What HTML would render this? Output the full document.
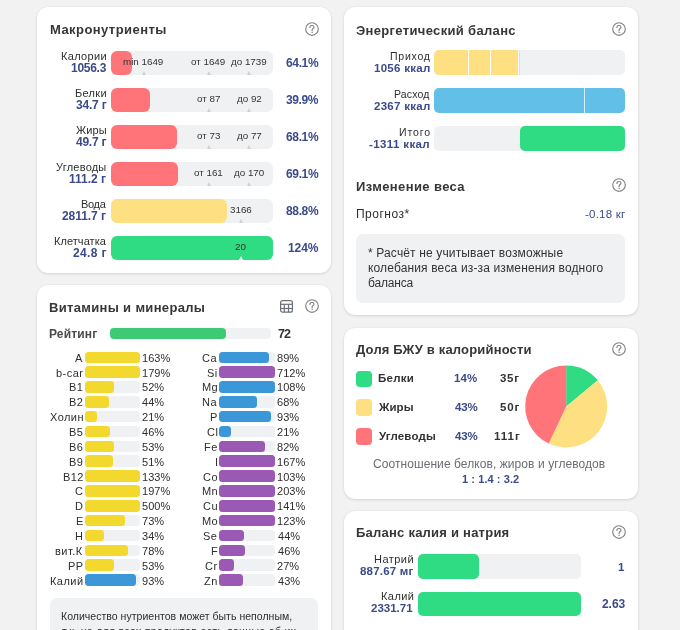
<!DOCTYPE html>
<html><head><meta charset="utf-8"><style>
html,body{margin:0;padding:0;}
body{width:680px;height:630px;overflow:hidden;background:#f2f2f3;position:relative;font-family:"Liberation Sans",sans-serif;}
.t{position:absolute;white-space:nowrap;-webkit-font-smoothing:antialiased;will-change:transform;}
.r{position:absolute;}
.card{position:absolute;background:#fff;border-radius:11px;box-shadow:0 1px 3px rgba(0,0,0,0.12),0 0 1px rgba(0,0,0,0.08);}
</style></head><body>
<div class="card" style="left:37px;top:7px;width:293.5px;height:266px"></div>
<div class="card" style="left:37px;top:285px;width:293.5px;height:400px"></div>
<div class="card" style="left:343.5px;top:7px;width:294.5px;height:308px"></div>
<div class="card" style="left:343.5px;top:328px;width:294.5px;height:171px"></div>
<div class="card" style="left:343.5px;top:511px;width:294.5px;height:200px"></div>
<div class="t" style="left:49.52px;top:23.30px;font-size:13px;line-height:13px;font-weight:700;color:#363636;letter-spacing:0.432px;">Макронутриенты</div>
<svg class="r" style="left:304px;top:20.8px" width="16" height="16" viewBox="0 0 16 16"><circle cx="8" cy="8" r="6.3" fill="none" stroke="#828282" stroke-width="1.15"/><path d="M5.9 6.4 C5.9 5.1 6.9 4.5 8 4.5 C9.2 4.5 10 5.3 10 6.2 C10 7.4 8.1 7.7 8.1 9 L8.1 9.5" fill="none" stroke="#828282" stroke-width="1.15" stroke-linecap="round"/><circle cx="8.1" cy="11.3" r="0.75" fill="#828282"/></svg>
<div class="t" style="left:61.22px;top:51.19px;font-size:11px;line-height:11px;font-weight:400;color:#2e2e2e;letter-spacing:0.324px;">Калории</div>
<div class="t" style="left:71.08px;top:62.34px;font-size:12px;line-height:12px;font-weight:700;color:#3b4a8a;letter-spacing:-0.270px;">1056.3</div>
<div class="r" style="left:111px;top:50.5px;width:162px;height:24.5px;background:#f0f1f3;border-radius:6px;"></div>
<div class="r" style="left:111px;top:50.5px;width:21px;height:24.5px;background:#ff7479;border-radius:6px;"></div>
<div class="r" style="left:141.8px;top:70.8px;width:0;height:0;border-left:2.2px solid transparent;border-right:2.2px solid transparent;border-bottom:4.2px solid #cfd1d4"></div>
<div class="t" style="left:122.77px;top:56.50px;font-size:9.8px;line-height:9.8px;font-weight:400;color:#333;">min 1649</div>
<div class="r" style="left:206.60000000000002px;top:70.8px;width:0;height:0;border-left:2.2px solid transparent;border-right:2.2px solid transparent;border-bottom:4.2px solid #cfd1d4"></div>
<div class="t" style="left:190.86px;top:56.50px;font-size:9.8px;line-height:9.8px;font-weight:400;color:#333;">от 1649</div>
<div class="r" style="left:247.3px;top:70.8px;width:0;height:0;border-left:2.2px solid transparent;border-right:2.2px solid transparent;border-bottom:4.2px solid #cfd1d4"></div>
<div class="t" style="left:230.88px;top:56.50px;font-size:9.8px;line-height:9.8px;font-weight:400;color:#333;">до 1739</div>
<div class="t" style="left:286.14px;top:56.84px;font-size:12px;line-height:12px;font-weight:700;color:#3b4a8a;letter-spacing:-0.359px;">64.1%</div>
<div class="t" style="left:75.22px;top:88.19px;font-size:11px;line-height:11px;font-weight:400;color:#2e2e2e;letter-spacing:0.297px;">Белки</div>
<div class="t" style="left:75.66px;top:99.34px;font-size:12px;line-height:12px;font-weight:700;color:#3b4a8a;letter-spacing:-0.206px;">34.7 г</div>
<div class="r" style="left:111px;top:87.5px;width:162px;height:24.5px;background:#f0f1f3;border-radius:6px;"></div>
<div class="r" style="left:111px;top:87.5px;width:39px;height:24.5px;background:#ff7479;border-radius:6px;"></div>
<div class="r" style="left:206.60000000000002px;top:107.8px;width:0;height:0;border-left:2.2px solid transparent;border-right:2.2px solid transparent;border-bottom:4.2px solid #cfd1d4"></div>
<div class="t" style="left:196.96px;top:93.50px;font-size:9.8px;line-height:9.8px;font-weight:400;color:#333;">от 87</div>
<div class="r" style="left:247.3px;top:107.8px;width:0;height:0;border-left:2.2px solid transparent;border-right:2.2px solid transparent;border-bottom:4.2px solid #cfd1d4"></div>
<div class="t" style="left:237.13px;top:93.50px;font-size:9.8px;line-height:9.8px;font-weight:400;color:#333;">до 92</div>
<div class="t" style="left:286.26px;top:93.84px;font-size:12px;line-height:12px;font-weight:700;color:#3b4a8a;letter-spacing:-0.389px;">39.9%</div>
<div class="t" style="left:75.99px;top:125.19px;font-size:11px;line-height:11px;font-weight:400;color:#2e2e2e;letter-spacing:0.147px;">Жиры</div>
<div class="t" style="left:75.88px;top:136.34px;font-size:12px;line-height:12px;font-weight:700;color:#3b4a8a;letter-spacing:-0.250px;">49.7 г</div>
<div class="r" style="left:111px;top:124.5px;width:162px;height:24.5px;background:#f0f1f3;border-radius:6px;"></div>
<div class="r" style="left:111px;top:124.5px;width:66px;height:24.5px;background:#ff7479;border-radius:6px;"></div>
<div class="r" style="left:206.60000000000002px;top:144.8px;width:0;height:0;border-left:2.2px solid transparent;border-right:2.2px solid transparent;border-bottom:4.2px solid #cfd1d4"></div>
<div class="t" style="left:196.91px;top:130.50px;font-size:9.8px;line-height:9.8px;font-weight:400;color:#333;">от 73</div>
<div class="r" style="left:247.3px;top:144.8px;width:0;height:0;border-left:2.2px solid transparent;border-right:2.2px solid transparent;border-bottom:4.2px solid #cfd1d4"></div>
<div class="t" style="left:237.13px;top:130.50px;font-size:9.8px;line-height:9.8px;font-weight:400;color:#333;">до 77</div>
<div class="t" style="left:286.14px;top:130.84px;font-size:12px;line-height:12px;font-weight:700;color:#3b4a8a;letter-spacing:-0.359px;">68.1%</div>
<div class="t" style="left:56.48px;top:162.19px;font-size:11px;line-height:11px;font-weight:400;color:#2e2e2e;letter-spacing:0.222px;">Углеводы</div>
<div class="t" style="left:69.28px;top:173.34px;font-size:12px;line-height:12px;font-weight:700;color:#3b4a8a;">111.2 г</div>
<div class="r" style="left:111px;top:161.5px;width:162px;height:24.5px;background:#f0f1f3;border-radius:6px;"></div>
<div class="r" style="left:111px;top:161.5px;width:67px;height:24.5px;background:#ff7479;border-radius:6px;"></div>
<div class="r" style="left:206.60000000000002px;top:181.8px;width:0;height:0;border-left:2.2px solid transparent;border-right:2.2px solid transparent;border-bottom:4.2px solid #cfd1d4"></div>
<div class="t" style="left:194.23px;top:167.50px;font-size:9.8px;line-height:9.8px;font-weight:400;color:#333;">от 161</div>
<div class="r" style="left:247.3px;top:181.8px;width:0;height:0;border-left:2.2px solid transparent;border-right:2.2px solid transparent;border-bottom:4.2px solid #cfd1d4"></div>
<div class="t" style="left:234.36px;top:167.50px;font-size:9.8px;line-height:9.8px;font-weight:400;color:#333;">до 170</div>
<div class="t" style="left:286.14px;top:167.84px;font-size:12px;line-height:12px;font-weight:700;color:#3b4a8a;letter-spacing:-0.359px;">69.1%</div>
<div class="t" style="left:81.12px;top:199.19px;font-size:11px;line-height:11px;font-weight:400;color:#2e2e2e;letter-spacing:-0.304px;">Вода</div>
<div class="t" style="left:62.44px;top:210.34px;font-size:12px;line-height:12px;font-weight:700;color:#3b4a8a;letter-spacing:-0.071px;">2811.7 г</div>
<div class="r" style="left:111px;top:198.5px;width:162px;height:24.5px;background:#f0f1f3;border-radius:6px;"></div>
<div class="r" style="left:111px;top:198.5px;width:115.5px;height:24.5px;background:#fedf82;border-radius:6px;"></div>
<div class="r" style="left:238.8px;top:218.8px;width:0;height:0;border-left:2.2px solid transparent;border-right:2.2px solid transparent;border-bottom:4.2px solid #cfd1d4"></div>
<div class="t" style="left:229.93px;top:204.50px;font-size:9.8px;line-height:9.8px;font-weight:400;color:#333;">3166</div>
<div class="t" style="left:286.14px;top:204.84px;font-size:12px;line-height:12px;font-weight:700;color:#3b4a8a;letter-spacing:-0.359px;">88.8%</div>
<div class="t" style="left:54.02px;top:236.19px;font-size:11px;line-height:11px;font-weight:400;color:#2e2e2e;letter-spacing:0.063px;">Клетчатка</div>
<div class="t" style="left:72.94px;top:247.34px;font-size:12px;line-height:12px;font-weight:700;color:#3b4a8a;letter-spacing:0.338px;">24.8 г</div>
<div class="r" style="left:111px;top:235.5px;width:162px;height:24.5px;background:#f0f1f3;border-radius:6px;"></div>
<div class="r" style="left:111px;top:235.5px;width:162px;height:24.5px;background:#2fdb83;border-radius:6px;"></div>
<div class="r" style="left:238.8px;top:255.8px;width:0;height:0;border-left:2.2px solid transparent;border-right:2.2px solid transparent;border-bottom:4.2px solid #ffffff"></div>
<div class="t" style="left:235.28px;top:241.50px;font-size:9.8px;line-height:9.8px;font-weight:400;color:#333;">20</div>
<div class="t" style="left:288.28px;top:241.84px;font-size:12px;line-height:12px;font-weight:700;color:#3b4a8a;letter-spacing:-0.080px;">124%</div>
<div class="t" style="left:48.92px;top:300.60px;font-size:13px;line-height:13px;font-weight:700;color:#363636;letter-spacing:0.330px;">Витамины и минералы</div>
<svg class="r" style="left:279px;top:299px" width="15" height="15" viewBox="0 0 15 15"><rect x="1.6" y="1.6" width="11.8" height="11.6" rx="2" fill="none" stroke="#6c7077" stroke-width="1.2"/><line x1="1.6" y1="5.3" x2="13.4" y2="5.3" stroke="#6c7077" stroke-width="1.2"/><line x1="1.6" y1="9.5" x2="13.4" y2="9.5" stroke="#6c7077" stroke-width="1.2"/><line x1="5.3" y1="5.3" x2="5.3" y2="13.2" stroke="#6c7077" stroke-width="1.2"/><line x1="9.5" y1="5.3" x2="9.5" y2="13.2" stroke="#6c7077" stroke-width="1.2"/></svg>
<svg class="r" style="left:304px;top:298.3px" width="16" height="16" viewBox="0 0 16 16"><circle cx="8" cy="8" r="6.3" fill="none" stroke="#828282" stroke-width="1.15"/><path d="M5.9 6.4 C5.9 5.1 6.9 4.5 8 4.5 C9.2 4.5 10 5.3 10 6.2 C10 7.4 8.1 7.7 8.1 9 L8.1 9.5" fill="none" stroke="#828282" stroke-width="1.15" stroke-linecap="round"/><circle cx="8.1" cy="11.3" r="0.75" fill="#828282"/></svg>
<div class="t" style="left:48.98px;top:328.24px;font-size:12px;line-height:12px;font-weight:700;color:#4a4a4a;letter-spacing:0.147px;">Рейтинг</div>
<div class="r" style="left:109.5px;top:327.8px;width:161px;height:11px;background:#f0f1f3;border-radius:4px;"></div>
<div class="r" style="left:109.5px;top:327.8px;width:116.5px;height:11px;background:#3dca72;border-radius:4px;"></div>
<div class="t" style="left:277.80px;top:327.72px;font-size:12.5px;line-height:12.5px;font-weight:700;color:#363636;letter-spacing:-0.852px;">72</div>
<div class="t" style="left:75.13px;top:352.79px;font-size:11px;line-height:11px;font-weight:400;color:#2e2e2e;letter-spacing:0.450px;">A</div>
<div class="r" style="left:85.1px;top:351.5px;width:54.8px;height:11.5px;background:#f0f1f3;border-radius:3.5px;"></div>
<div class="r" style="left:85.1px;top:351.5px;width:54.8px;height:11.5px;background:#f3d82e;border-radius:3.5px;"></div>
<div class="t" style="left:141.93px;top:352.79px;font-size:11px;line-height:11px;font-weight:400;color:#2e2e2e;letter-spacing:0.050px;">163%</div>
<div class="t" style="left:202.45px;top:352.79px;font-size:11px;line-height:11px;font-weight:400;color:#2e2e2e;letter-spacing:0.450px;">Ca</div>
<div class="r" style="left:219.3px;top:351.5px;width:55.7px;height:11.5px;background:#f0f1f3;border-radius:3.5px;"></div>
<div class="r" style="left:219.3px;top:351.5px;width:49.573px;height:11.5px;background:#3c97d9;border-radius:3.5px;"></div>
<div class="t" style="left:277.36px;top:352.79px;font-size:11px;line-height:11px;font-weight:400;color:#2e2e2e;letter-spacing:0.050px;">89%</div>
<div class="t" style="left:55.78px;top:367.64px;font-size:11px;line-height:11px;font-weight:400;color:#2e2e2e;letter-spacing:0.450px;">b-car</div>
<div class="r" style="left:85.1px;top:366.35px;width:54.8px;height:11.5px;background:#f0f1f3;border-radius:3.5px;"></div>
<div class="r" style="left:85.1px;top:366.35px;width:54.8px;height:11.5px;background:#f3d82e;border-radius:3.5px;"></div>
<div class="t" style="left:141.93px;top:367.64px;font-size:11px;line-height:11px;font-weight:400;color:#2e2e2e;letter-spacing:0.050px;">179%</div>
<div class="t" style="left:207.45px;top:367.64px;font-size:11px;line-height:11px;font-weight:400;color:#2e2e2e;letter-spacing:0.450px;">Si</div>
<div class="r" style="left:219.3px;top:366.35px;width:55.7px;height:11.5px;background:#f0f1f3;border-radius:3.5px;"></div>
<div class="r" style="left:219.3px;top:366.35px;width:55.7px;height:11.5px;background:#9b59b6;border-radius:3.5px;"></div>
<div class="t" style="left:277.25px;top:367.64px;font-size:11px;line-height:11px;font-weight:400;color:#2e2e2e;letter-spacing:0.050px;">712%</div>
<div class="t" style="left:69.10px;top:382.49px;font-size:11px;line-height:11px;font-weight:400;color:#2e2e2e;letter-spacing:0.450px;">B1</div>
<div class="r" style="left:85.1px;top:381.2px;width:54.8px;height:11.5px;background:#f0f1f3;border-radius:3.5px;"></div>
<div class="r" style="left:85.1px;top:381.2px;width:28.496px;height:11.5px;background:#f3d82e;border-radius:3.5px;"></div>
<div class="t" style="left:142.26px;top:382.49px;font-size:11px;line-height:11px;font-weight:400;color:#2e2e2e;letter-spacing:0.050px;">52%</div>
<div class="t" style="left:201.89px;top:382.49px;font-size:11px;line-height:11px;font-weight:400;color:#2e2e2e;letter-spacing:0.450px;">Mg</div>
<div class="r" style="left:219.3px;top:381.2px;width:55.7px;height:11.5px;background:#f0f1f3;border-radius:3.5px;"></div>
<div class="r" style="left:219.3px;top:381.2px;width:55.7px;height:11.5px;background:#3c97d9;border-radius:3.5px;"></div>
<div class="t" style="left:277.03px;top:382.49px;font-size:11px;line-height:11px;font-weight:400;color:#2e2e2e;letter-spacing:0.050px;">108%</div>
<div class="t" style="left:69.10px;top:397.34px;font-size:11px;line-height:11px;font-weight:400;color:#2e2e2e;letter-spacing:0.450px;">B2</div>
<div class="r" style="left:85.1px;top:396.05px;width:54.8px;height:11.5px;background:#f0f1f3;border-radius:3.5px;"></div>
<div class="r" style="left:85.1px;top:396.05px;width:24.112px;height:11.5px;background:#f3d82e;border-radius:3.5px;"></div>
<div class="t" style="left:142.48px;top:397.34px;font-size:11px;line-height:11px;font-weight:400;color:#2e2e2e;letter-spacing:0.050px;">44%</div>
<div class="t" style="left:202.45px;top:397.34px;font-size:11px;line-height:11px;font-weight:400;color:#2e2e2e;letter-spacing:0.450px;">Na</div>
<div class="r" style="left:219.3px;top:396.05px;width:55.7px;height:11.5px;background:#f0f1f3;border-radius:3.5px;"></div>
<div class="r" style="left:219.3px;top:396.05px;width:37.876000000000005px;height:11.5px;background:#3c97d9;border-radius:3.5px;"></div>
<div class="t" style="left:277.25px;top:397.34px;font-size:11px;line-height:11px;font-weight:400;color:#2e2e2e;letter-spacing:0.050px;">68%</div>
<div class="t" style="left:49.66px;top:412.19px;font-size:11px;line-height:11px;font-weight:400;color:#2e2e2e;letter-spacing:0.450px;">Холин</div>
<div class="r" style="left:85.1px;top:410.9px;width:54.8px;height:11.5px;background:#f0f1f3;border-radius:3.5px;"></div>
<div class="r" style="left:85.1px;top:410.9px;width:11.508px;height:11.5px;background:#f3d82e;border-radius:3.5px;"></div>
<div class="t" style="left:142.15px;top:412.19px;font-size:11px;line-height:11px;font-weight:400;color:#2e2e2e;letter-spacing:0.050px;">21%</div>
<div class="t" style="left:210.18px;top:412.19px;font-size:11px;line-height:11px;font-weight:400;color:#2e2e2e;letter-spacing:0.450px;">P</div>
<div class="r" style="left:219.3px;top:410.9px;width:55.7px;height:11.5px;background:#f0f1f3;border-radius:3.5px;"></div>
<div class="r" style="left:219.3px;top:410.9px;width:51.801px;height:11.5px;background:#3c97d9;border-radius:3.5px;"></div>
<div class="t" style="left:277.36px;top:412.19px;font-size:11px;line-height:11px;font-weight:400;color:#2e2e2e;letter-spacing:0.050px;">93%</div>
<div class="t" style="left:68.99px;top:427.04px;font-size:11px;line-height:11px;font-weight:400;color:#2e2e2e;letter-spacing:0.450px;">B5</div>
<div class="r" style="left:85.1px;top:425.75px;width:54.8px;height:11.5px;background:#f0f1f3;border-radius:3.5px;"></div>
<div class="r" style="left:85.1px;top:425.75px;width:25.208px;height:11.5px;background:#f3d82e;border-radius:3.5px;"></div>
<div class="t" style="left:142.48px;top:427.04px;font-size:11px;line-height:11px;font-weight:400;color:#2e2e2e;letter-spacing:0.050px;">46%</div>
<div class="t" style="left:206.85px;top:427.04px;font-size:11px;line-height:11px;font-weight:400;color:#2e2e2e;letter-spacing:0.450px;">Cl</div>
<div class="r" style="left:219.3px;top:425.75px;width:55.7px;height:11.5px;background:#f0f1f3;border-radius:3.5px;"></div>
<div class="r" style="left:219.3px;top:425.75px;width:11.697000000000001px;height:11.5px;background:#3c97d9;border-radius:3.5px;"></div>
<div class="t" style="left:277.25px;top:427.04px;font-size:11px;line-height:11px;font-weight:400;color:#2e2e2e;letter-spacing:0.050px;">21%</div>
<div class="t" style="left:68.99px;top:441.89px;font-size:11px;line-height:11px;font-weight:400;color:#2e2e2e;letter-spacing:0.450px;">B6</div>
<div class="r" style="left:85.1px;top:440.59999999999997px;width:54.8px;height:11.5px;background:#f0f1f3;border-radius:3.5px;"></div>
<div class="r" style="left:85.1px;top:440.59999999999997px;width:29.043999999999997px;height:11.5px;background:#f3d82e;border-radius:3.5px;"></div>
<div class="t" style="left:142.26px;top:441.89px;font-size:11px;line-height:11px;font-weight:400;color:#2e2e2e;letter-spacing:0.050px;">53%</div>
<div class="t" style="left:204.11px;top:441.89px;font-size:11px;line-height:11px;font-weight:400;color:#2e2e2e;letter-spacing:0.450px;">Fe</div>
<div class="r" style="left:219.3px;top:440.59999999999997px;width:55.7px;height:11.5px;background:#f0f1f3;border-radius:3.5px;"></div>
<div class="r" style="left:219.3px;top:440.59999999999997px;width:45.67400000000001px;height:11.5px;background:#9b59b6;border-radius:3.5px;"></div>
<div class="t" style="left:277.36px;top:441.89px;font-size:11px;line-height:11px;font-weight:400;color:#2e2e2e;letter-spacing:0.050px;">82%</div>
<div class="t" style="left:69.10px;top:456.74px;font-size:11px;line-height:11px;font-weight:400;color:#2e2e2e;letter-spacing:0.450px;">B9</div>
<div class="r" style="left:85.1px;top:455.45px;width:54.8px;height:11.5px;background:#f0f1f3;border-radius:3.5px;"></div>
<div class="r" style="left:85.1px;top:455.45px;width:27.947999999999997px;height:11.5px;background:#f3d82e;border-radius:3.5px;"></div>
<div class="t" style="left:142.26px;top:456.74px;font-size:11px;line-height:11px;font-weight:400;color:#2e2e2e;letter-spacing:0.050px;">51%</div>
<div class="t" style="left:214.91px;top:456.74px;font-size:11px;line-height:11px;font-weight:400;color:#2e2e2e;letter-spacing:0.450px;">I</div>
<div class="r" style="left:219.3px;top:455.45px;width:55.7px;height:11.5px;background:#f0f1f3;border-radius:3.5px;"></div>
<div class="r" style="left:219.3px;top:455.45px;width:55.7px;height:11.5px;background:#9b59b6;border-radius:3.5px;"></div>
<div class="t" style="left:277.03px;top:456.74px;font-size:11px;line-height:11px;font-weight:400;color:#2e2e2e;letter-spacing:0.050px;">167%</div>
<div class="t" style="left:62.54px;top:471.59px;font-size:11px;line-height:11px;font-weight:400;color:#2e2e2e;letter-spacing:0.450px;">B12</div>
<div class="r" style="left:85.1px;top:470.3px;width:54.8px;height:11.5px;background:#f0f1f3;border-radius:3.5px;"></div>
<div class="r" style="left:85.1px;top:470.3px;width:54.8px;height:11.5px;background:#f3d82e;border-radius:3.5px;"></div>
<div class="t" style="left:141.93px;top:471.59px;font-size:11px;line-height:11px;font-weight:400;color:#2e2e2e;letter-spacing:0.050px;">133%</div>
<div class="t" style="left:202.89px;top:471.59px;font-size:11px;line-height:11px;font-weight:400;color:#2e2e2e;letter-spacing:0.450px;">Co</div>
<div class="r" style="left:219.3px;top:470.3px;width:55.7px;height:11.5px;background:#f0f1f3;border-radius:3.5px;"></div>
<div class="r" style="left:219.3px;top:470.3px;width:55.7px;height:11.5px;background:#9b59b6;border-radius:3.5px;"></div>
<div class="t" style="left:277.03px;top:471.59px;font-size:11px;line-height:11px;font-weight:400;color:#2e2e2e;letter-spacing:0.050px;">103%</div>
<div class="t" style="left:74.91px;top:486.44px;font-size:11px;line-height:11px;font-weight:400;color:#2e2e2e;letter-spacing:0.450px;">C</div>
<div class="r" style="left:85.1px;top:485.15000000000003px;width:54.8px;height:11.5px;background:#f0f1f3;border-radius:3.5px;"></div>
<div class="r" style="left:85.1px;top:485.15000000000003px;width:54.8px;height:11.5px;background:#f3d82e;border-radius:3.5px;"></div>
<div class="t" style="left:141.93px;top:486.44px;font-size:11px;line-height:11px;font-weight:400;color:#2e2e2e;letter-spacing:0.050px;">197%</div>
<div class="t" style="left:201.89px;top:486.44px;font-size:11px;line-height:11px;font-weight:400;color:#2e2e2e;letter-spacing:0.450px;">Mn</div>
<div class="r" style="left:219.3px;top:485.15000000000003px;width:55.7px;height:11.5px;background:#f0f1f3;border-radius:3.5px;"></div>
<div class="r" style="left:219.3px;top:485.15000000000003px;width:55.7px;height:11.5px;background:#9b59b6;border-radius:3.5px;"></div>
<div class="t" style="left:277.25px;top:486.44px;font-size:11px;line-height:11px;font-weight:400;color:#2e2e2e;letter-spacing:0.050px;">203%</div>
<div class="t" style="left:75.02px;top:501.29px;font-size:11px;line-height:11px;font-weight:400;color:#2e2e2e;letter-spacing:0.450px;">D</div>
<div class="r" style="left:85.1px;top:500.0px;width:54.8px;height:11.5px;background:#f0f1f3;border-radius:3.5px;"></div>
<div class="r" style="left:85.1px;top:500.0px;width:54.8px;height:11.5px;background:#f3d82e;border-radius:3.5px;"></div>
<div class="t" style="left:142.26px;top:501.29px;font-size:11px;line-height:11px;font-weight:400;color:#2e2e2e;letter-spacing:0.050px;">500%</div>
<div class="t" style="left:203.22px;top:501.29px;font-size:11px;line-height:11px;font-weight:400;color:#2e2e2e;letter-spacing:0.450px;">Cu</div>
<div class="r" style="left:219.3px;top:500.0px;width:55.7px;height:11.5px;background:#f0f1f3;border-radius:3.5px;"></div>
<div class="r" style="left:219.3px;top:500.0px;width:55.7px;height:11.5px;background:#9b59b6;border-radius:3.5px;"></div>
<div class="t" style="left:277.03px;top:501.29px;font-size:11px;line-height:11px;font-weight:400;color:#2e2e2e;letter-spacing:0.050px;">141%</div>
<div class="t" style="left:75.57px;top:516.14px;font-size:11px;line-height:11px;font-weight:400;color:#2e2e2e;letter-spacing:0.450px;">E</div>
<div class="r" style="left:85.1px;top:514.85px;width:54.8px;height:11.5px;background:#f0f1f3;border-radius:3.5px;"></div>
<div class="r" style="left:85.1px;top:514.85px;width:40.004px;height:11.5px;background:#f3d82e;border-radius:3.5px;"></div>
<div class="t" style="left:142.15px;top:516.14px;font-size:11px;line-height:11px;font-weight:400;color:#2e2e2e;letter-spacing:0.050px;">73%</div>
<div class="t" style="left:201.67px;top:516.14px;font-size:11px;line-height:11px;font-weight:400;color:#2e2e2e;letter-spacing:0.450px;">Mo</div>
<div class="r" style="left:219.3px;top:514.85px;width:55.7px;height:11.5px;background:#f0f1f3;border-radius:3.5px;"></div>
<div class="r" style="left:219.3px;top:514.85px;width:55.7px;height:11.5px;background:#9b59b6;border-radius:3.5px;"></div>
<div class="t" style="left:277.03px;top:516.14px;font-size:11px;line-height:11px;font-weight:400;color:#2e2e2e;letter-spacing:0.050px;">123%</div>
<div class="t" style="left:75.35px;top:530.99px;font-size:11px;line-height:11px;font-weight:400;color:#2e2e2e;letter-spacing:0.450px;">H</div>
<div class="r" style="left:85.1px;top:529.7px;width:54.8px;height:11.5px;background:#f0f1f3;border-radius:3.5px;"></div>
<div class="r" style="left:85.1px;top:529.7px;width:18.631999999999998px;height:11.5px;background:#f3d82e;border-radius:3.5px;"></div>
<div class="t" style="left:142.37px;top:530.99px;font-size:11px;line-height:11px;font-weight:400;color:#2e2e2e;letter-spacing:0.050px;">34%</div>
<div class="t" style="left:203.49px;top:530.99px;font-size:11px;line-height:11px;font-weight:400;color:#2e2e2e;letter-spacing:0.450px;">Se</div>
<div class="r" style="left:219.3px;top:529.7px;width:55.7px;height:11.5px;background:#f0f1f3;border-radius:3.5px;"></div>
<div class="r" style="left:219.3px;top:529.7px;width:24.508000000000003px;height:11.5px;background:#9b59b6;border-radius:3.5px;"></div>
<div class="t" style="left:277.58px;top:530.99px;font-size:11px;line-height:11px;font-weight:400;color:#2e2e2e;letter-spacing:0.050px;">44%</div>
<div class="t" style="left:55.46px;top:545.84px;font-size:11px;line-height:11px;font-weight:400;color:#2e2e2e;letter-spacing:0.450px;">вит.К</div>
<div class="r" style="left:85.1px;top:544.5500000000001px;width:54.8px;height:11.5px;background:#f0f1f3;border-radius:3.5px;"></div>
<div class="r" style="left:85.1px;top:544.5500000000001px;width:42.744px;height:11.5px;background:#f3d82e;border-radius:3.5px;"></div>
<div class="t" style="left:142.15px;top:545.84px;font-size:11px;line-height:11px;font-weight:400;color:#2e2e2e;letter-spacing:0.050px;">78%</div>
<div class="t" style="left:210.62px;top:545.84px;font-size:11px;line-height:11px;font-weight:400;color:#2e2e2e;letter-spacing:0.450px;">F</div>
<div class="r" style="left:219.3px;top:544.5500000000001px;width:55.7px;height:11.5px;background:#f0f1f3;border-radius:3.5px;"></div>
<div class="r" style="left:219.3px;top:544.5500000000001px;width:25.622000000000003px;height:11.5px;background:#9b59b6;border-radius:3.5px;"></div>
<div class="t" style="left:277.58px;top:545.84px;font-size:11px;line-height:11px;font-weight:400;color:#2e2e2e;letter-spacing:0.050px;">46%</div>
<div class="t" style="left:67.89px;top:560.69px;font-size:11px;line-height:11px;font-weight:400;color:#2e2e2e;letter-spacing:0.450px;">PP</div>
<div class="r" style="left:85.1px;top:559.4000000000001px;width:54.8px;height:11.5px;background:#f0f1f3;border-radius:3.5px;"></div>
<div class="r" style="left:85.1px;top:559.4000000000001px;width:29.043999999999997px;height:11.5px;background:#f3d82e;border-radius:3.5px;"></div>
<div class="t" style="left:142.26px;top:560.69px;font-size:11px;line-height:11px;font-weight:400;color:#2e2e2e;letter-spacing:0.050px;">53%</div>
<div class="t" style="left:205.09px;top:560.69px;font-size:11px;line-height:11px;font-weight:400;color:#2e2e2e;letter-spacing:0.450px;">Cr</div>
<div class="r" style="left:219.3px;top:559.4000000000001px;width:55.7px;height:11.5px;background:#f0f1f3;border-radius:3.5px;"></div>
<div class="r" style="left:219.3px;top:559.4000000000001px;width:15.039000000000001px;height:11.5px;background:#9b59b6;border-radius:3.5px;"></div>
<div class="t" style="left:277.25px;top:560.69px;font-size:11px;line-height:11px;font-weight:400;color:#2e2e2e;letter-spacing:0.050px;">27%</div>
<div class="t" style="left:50.22px;top:575.54px;font-size:11px;line-height:11px;font-weight:400;color:#2e2e2e;letter-spacing:0.450px;">Калий</div>
<div class="r" style="left:85.1px;top:574.25px;width:54.8px;height:11.5px;background:#f0f1f3;border-radius:3.5px;"></div>
<div class="r" style="left:85.1px;top:574.25px;width:50.964px;height:11.5px;background:#3c97d9;border-radius:3.5px;"></div>
<div class="t" style="left:142.26px;top:575.54px;font-size:11px;line-height:11px;font-weight:400;color:#2e2e2e;letter-spacing:0.050px;">93%</div>
<div class="t" style="left:204.33px;top:575.54px;font-size:11px;line-height:11px;font-weight:400;color:#2e2e2e;letter-spacing:0.450px;">Zn</div>
<div class="r" style="left:219.3px;top:574.25px;width:55.7px;height:11.5px;background:#f0f1f3;border-radius:3.5px;"></div>
<div class="r" style="left:219.3px;top:574.25px;width:23.951px;height:11.5px;background:#9b59b6;border-radius:3.5px;"></div>
<div class="t" style="left:277.58px;top:575.54px;font-size:11px;line-height:11px;font-weight:400;color:#2e2e2e;letter-spacing:0.050px;">43%</div>
<div class="r" style="left:49.5px;top:598px;width:268.5px;height:60px;background:#f0f1f3;border-radius:7px;"></div>
<div class="t" style="left:61.36px;top:610.71px;font-size:10.5px;line-height:10.5px;font-weight:400;color:#2e2e2e;letter-spacing:0.028px;">Количество нутриентов может быть неполным,</div>
<div class="t" style="left:62.10px;top:625.71px;font-size:10.5px;line-height:10.5px;font-weight:400;color:#2e2e2e;letter-spacing:0.345px;">т.к. не для всех продуктов есть данные об их</div>
<div class="t" style="left:355.74px;top:23.50px;font-size:13px;line-height:13px;font-weight:700;color:#363636;letter-spacing:0.336px;">Энергетический баланс</div>
<svg class="r" style="left:611px;top:20.8px" width="16" height="16" viewBox="0 0 16 16"><circle cx="8" cy="8" r="6.3" fill="none" stroke="#828282" stroke-width="1.15"/><path d="M5.9 6.4 C5.9 5.1 6.9 4.5 8 4.5 C9.2 4.5 10 5.3 10 6.2 C10 7.4 8.1 7.7 8.1 9 L8.1 9.5" fill="none" stroke="#828282" stroke-width="1.15" stroke-linecap="round"/><circle cx="8.1" cy="11.3" r="0.75" fill="#828282"/></svg>
<div class="t" style="left:389.76px;top:51.01px;font-size:10.5px;line-height:10.5px;font-weight:400;color:#2e2e2e;letter-spacing:0.752px;">Приход</div>
<div class="t" style="left:373.71px;top:63.27px;font-size:11.5px;line-height:11.5px;font-weight:700;color:#3b4a8a;letter-spacing:0.281px;">1056 ккал</div>
<div class="r" style="left:434px;top:50px;width:191px;height:25px;background:#f0f1f3;border-radius:5px;"></div>
<div class="t" style="left:394.16px;top:88.71px;font-size:10.5px;line-height:10.5px;font-weight:400;color:#2e2e2e;letter-spacing:0.174px;">Расход</div>
<div class="t" style="left:373.75px;top:100.87px;font-size:11.5px;line-height:11.5px;font-weight:700;color:#3b4a8a;letter-spacing:0.276px;">2367 ккал</div>
<div class="r" style="left:434px;top:88px;width:191px;height:25px;background:#f0f1f3;border-radius:5px;"></div>
<div class="t" style="left:398.86px;top:127.01px;font-size:10.5px;line-height:10.5px;font-weight:400;color:#2e2e2e;letter-spacing:0.876px;">Итого</div>
<div class="t" style="left:369.35px;top:139.47px;font-size:11.5px;line-height:11.5px;font-weight:700;color:#3b4a8a;letter-spacing:0.379px;">-1311 ккал</div>
<div class="r" style="left:434px;top:126px;width:191px;height:25px;background:#f0f1f3;border-radius:5px;"></div>
<div class="r" style="left:434px;top:50px;width:86px;height:25px;border-radius:5px 0 0 5px;overflow:hidden;background:#fedf82"><div class="r" style="left:34px;top:0;width:1px;height:25px;background:#fff"></div><div class="r" style="left:55.5px;top:0;width:1px;height:25px;background:#fff"></div><div class="r" style="left:84px;top:0;width:1px;height:25px;background:#fff"></div></div>
<div class="r" style="left:434px;top:88px;width:191px;height:25px;border-radius:5px;overflow:hidden;background:#62bfe7"><div class="r" style="left:149.5px;top:0;width:1px;height:25px;background:#d8eefa"></div></div>
<div class="r" style="left:519.5px;top:126px;width:105.5px;height:25px;background:#2fdb83;border-radius:5px;"></div>
<div class="t" style="left:355.72px;top:179.50px;font-size:13px;line-height:13px;font-weight:700;color:#363636;letter-spacing:0.385px;">Изменение веса</div>
<svg class="r" style="left:611px;top:177px" width="16" height="16" viewBox="0 0 16 16"><circle cx="8" cy="8" r="6.3" fill="none" stroke="#828282" stroke-width="1.15"/><path d="M5.9 6.4 C5.9 5.1 6.9 4.5 8 4.5 C9.2 4.5 10 5.3 10 6.2 C10 7.4 8.1 7.7 8.1 9 L8.1 9.5" fill="none" stroke="#828282" stroke-width="1.15" stroke-linecap="round"/><circle cx="8.1" cy="11.3" r="0.75" fill="#828282"/></svg>
<div class="t" style="left:355.54px;top:208.44px;font-size:12px;line-height:12px;font-weight:400;color:#2e2e2e;letter-spacing:0.483px;">Прогноз*</div>
<div class="t" style="left:584.84px;top:209.27px;font-size:11.5px;line-height:11.5px;font-weight:400;color:#3b4a8a;letter-spacing:0.216px;">-0.18 кг</div>
<div class="r" style="left:356px;top:234px;width:269px;height:68.5px;background:#f0f1f3;border-radius:7px;"></div>
<div class="t" style="left:368.38px;top:247.44px;font-size:12px;line-height:12px;font-weight:400;color:#333;letter-spacing:0.147px;">* Расчёт не учитывает возможные</div>
<div class="t" style="left:367.78px;top:262.44px;font-size:12px;line-height:12px;font-weight:400;color:#333;letter-spacing:0.146px;">колебания веса из-за изменения водного</div>
<div class="t" style="left:367.90px;top:276.74px;font-size:12px;line-height:12px;font-weight:400;color:#333;letter-spacing:-0.182px;">баланса</div>
<div class="t" style="left:355.60px;top:343.00px;font-size:13px;line-height:13px;font-weight:700;color:#363636;letter-spacing:0.171px;">Доля БЖУ в калорийности</div>
<svg class="r" style="left:611px;top:341px" width="16" height="16" viewBox="0 0 16 16"><circle cx="8" cy="8" r="6.3" fill="none" stroke="#828282" stroke-width="1.15"/><path d="M5.9 6.4 C5.9 5.1 6.9 4.5 8 4.5 C9.2 4.5 10 5.3 10 6.2 C10 7.4 8.1 7.7 8.1 9 L8.1 9.5" fill="none" stroke="#828282" stroke-width="1.15" stroke-linecap="round"/><circle cx="8.1" cy="11.3" r="0.75" fill="#828282"/></svg>
<div class="r" style="left:355.6px;top:370.5px;width:16.4px;height:16.6px;background:#2fdb83;border-radius:4px;"></div>
<div class="t" style="left:378.31px;top:373.17px;font-size:11.5px;line-height:11.5px;font-weight:700;color:#333;letter-spacing:0.236px;">Белки</div>
<div class="t" style="left:454.11px;top:373.17px;font-size:11.5px;line-height:11.5px;font-weight:700;color:#3b4a8a;letter-spacing:0.147px;">14%</div>
<div class="t" style="left:500.37px;top:373.17px;font-size:11.5px;line-height:11.5px;font-weight:700;color:#333;letter-spacing:0.677px;">35г</div>
<div class="r" style="left:355.6px;top:399.3px;width:16.4px;height:16.6px;background:#fedf82;border-radius:4px;"></div>
<div class="t" style="left:379.12px;top:401.97px;font-size:11.5px;line-height:11.5px;font-weight:700;color:#333;letter-spacing:0.071px;">Жиры</div>
<div class="t" style="left:454.69px;top:401.97px;font-size:11.5px;line-height:11.5px;font-weight:700;color:#3b4a8a;letter-spacing:-0.141px;">43%</div>
<div class="t" style="left:500.05px;top:401.97px;font-size:11.5px;line-height:11.5px;font-weight:700;color:#333;letter-spacing:0.834px;">50г</div>
<div class="r" style="left:355.6px;top:428.1px;width:16.4px;height:16.6px;background:#ff7479;border-radius:4px;"></div>
<div class="t" style="left:379.00px;top:430.77px;font-size:11.5px;line-height:11.5px;font-weight:700;color:#333;letter-spacing:0.151px;">Углеводы</div>
<div class="t" style="left:454.69px;top:430.77px;font-size:11.5px;line-height:11.5px;font-weight:700;color:#3b4a8a;letter-spacing:-0.141px;">43%</div>
<div class="t" style="left:493.51px;top:430.77px;font-size:11.5px;line-height:11.5px;font-weight:700;color:#333;letter-spacing:1.029px;">111г</div>
<svg class="r" style="left:0;top:0" width="680" height="630"><path d="M566.2 406.5 L566.20 365.50 A41 41 0 0 1 597.79 380.37 Z" fill="#2fdb83"/><path d="M566.2 406.5 L597.79 380.37 A41 41 0 0 1 548.74 443.60 Z" fill="#fedf82"/><path d="M566.2 406.5 L548.74 443.60 A41 41 0 0 1 566.20 365.50 Z" fill="#ff7479"/></svg>
<div class="t" style="left:373.00px;top:458.44px;font-size:12px;line-height:12px;font-weight:400;color:#6a6d73;letter-spacing:0.072px;">Соотношение белков, жиров и углеводов</div>
<div class="t" style="left:462.04px;top:474.29px;font-size:11px;line-height:11px;font-weight:700;color:#3b4a8a;letter-spacing:0.076px;">1 : 1.4 : 3.2</div>
<div class="t" style="left:355.52px;top:526.30px;font-size:13px;line-height:13px;font-weight:700;color:#363636;letter-spacing:0.235px;">Баланс калия и натрия</div>
<svg class="r" style="left:611px;top:524.4px" width="16" height="16" viewBox="0 0 16 16"><circle cx="8" cy="8" r="6.3" fill="none" stroke="#828282" stroke-width="1.15"/><path d="M5.9 6.4 C5.9 5.1 6.9 4.5 8 4.5 C9.2 4.5 10 5.3 10 6.2 C10 7.4 8.1 7.7 8.1 9 L8.1 9.5" fill="none" stroke="#828282" stroke-width="1.15" stroke-linecap="round"/><circle cx="8.1" cy="11.3" r="0.75" fill="#828282"/></svg>
<div class="t" style="left:374.12px;top:554.09px;font-size:11px;line-height:11px;font-weight:400;color:#2e2e2e;letter-spacing:0.474px;">Натрий</div>
<div class="t" style="left:359.95px;top:565.87px;font-size:11.5px;line-height:11.5px;font-weight:700;color:#3b4a8a;letter-spacing:0.211px;">887.67 мг</div>
<div class="r" style="left:417.7px;top:554px;width:163px;height:25px;background:#f0f1f3;border-radius:5px;"></div>
<div class="r" style="left:417.7px;top:554px;width:61.3px;height:25px;background:#2fdb83;border-radius:5px;"></div>
<div class="t" style="left:617.70px;top:561.67px;font-size:11.5px;line-height:11.5px;font-weight:700;color:#3b4a8a;">1</div>
<div class="t" style="left:380.82px;top:591.49px;font-size:11px;line-height:11px;font-weight:400;color:#2e2e2e;letter-spacing:0.425px;">Калий</div>
<div class="t" style="left:370.75px;top:602.67px;font-size:11.5px;line-height:11.5px;font-weight:700;color:#3b4a8a;">2331.71</div>
<div class="r" style="left:417.7px;top:591.6px;width:163px;height:24.5px;background:#2fdb83;border-radius:5px;"></div>
<div class="t" style="left:602.24px;top:598.14px;font-size:12px;line-height:12px;font-weight:700;color:#3b4a8a;letter-spacing:-0.054px;">2.63</div>
</body></html>
